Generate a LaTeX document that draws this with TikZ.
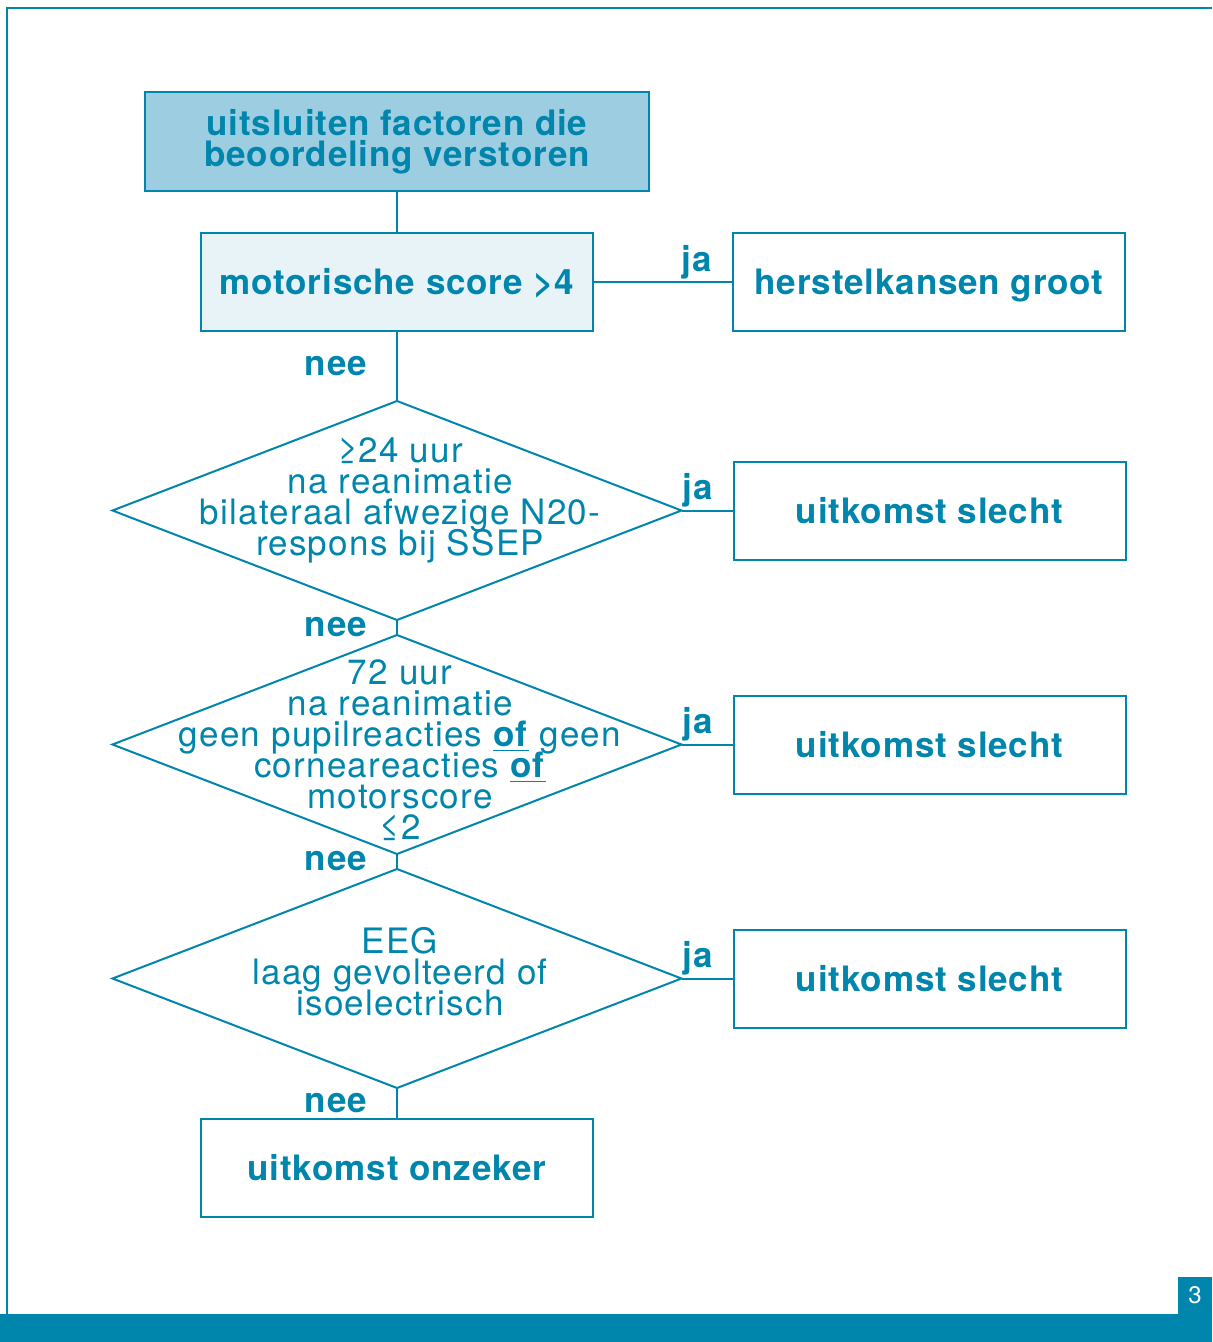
\documentclass[tikz,border=0pt]{standalone}
\usepackage{fontspec}
\setmainfont{TeX Gyre Heros}[LetterSpace=2.5]
\usetikzlibrary{positioning, shapes.geometric}
\definecolor{flowblue}{RGB}{0,134,173}
\definecolor{flowmid}{RGB}{157,205,224}
\definecolor{flowpale}{RGB}{232,243,248}
\newcommand\flowsize{\fontsize{17.5pt}{15.5pt}\selectfont\lineskiplimit=-20pt}
\newcommand\flowof{\smash{\underline{\textbf{of}}}}

\begin{document}
\begin{tikzpicture}[x = 0.5pt, y = -0.5pt, line width = 1pt, color = flowblue, outer sep = 0,
  box/.style = {draw, rectangle, minimum width = 196pt, minimum height = 49pt, inner sep = 0, align = center, font = \flowsize\bfseries},
  onebox/.style = {box, text height = 12.5pt, text depth = 0pt},
  topbox/.style = {box, fill = flowmid, minimum width = 252pt, minimum height = 49.5pt},
  dec/.style = {draw, diamond, minimum width = 284.5pt, minimum height = 109.5pt, inner sep = 0},
  dectext/.style = {align = center, inner sep = 0, font = \flowsize\addfontfeatures{LetterSpace=3.5}},
  ja/.style = {inner sep = 0, font = \flowsize\bfseries, pos = 1, above left = 1.5pt and 10.5pt},
  nee/.style = {inner sep = 0, font = \flowsize\bfseries, left = 15pt}]
\useasboundingbox (0,0) rectangle (1212,1342);
\draw (7,1314) -- (7,8) -- (1212,8);
\fill (0,1314) rectangle (1212,1342);
\node[fill, text = white, inner sep = 0, minimum width = 17pt, minimum height = 18.5pt, font = \fontsize{12pt}{13pt}\selectfont](page) at (1195,1295.5){3};

\node[topbox](excl) at (397,141.5){uitsluiten factoren die\\beoordeling verstoren};
\node[onebox, fill = flowpale, below = 21pt of excl](motor){motorische score >4};
\node[onebox, right = 70pt of motor](herstel){herstelkansen groot};
\node[dec, below = 35pt of motor](ssep){};
\node[onebox, right = 26pt of ssep](slecht1){uitkomst slecht};
\node[dec, below = 7.5pt of ssep](pupil){};
\node[onebox, right = 26pt of pupil](slecht2){uitkomst slecht};
\node[dec, below = 7.5pt of pupil](eeg){};
\node[onebox, right = 26pt of eeg](slecht3){uitkomst slecht};
\node[onebox, below = 15.5pt of eeg](onzeker){uitkomst onzeker};

\node[dectext](ssept) at ([xshift = 1.5pt, yshift = 5pt]ssep){≥24 uur\\na reanimatie\\bilateraal afwezige N20-\\respons bij SSEP};
\node[dectext](pupilt) at ([xshift = 1.5pt, yshift = -3pt]pupil){72 uur\\na reanimatie\\geen pupilreacties \flowof{} geen\\corneareacties \flowof\\motorscore\\≤2};
\node[dectext](eegt) at ([xshift = 1.5pt, yshift = 3.5pt]eeg){EEG\\laag gevolteerd of\\isoelectrisch};

\draw (excl) -- (motor);
\draw (motor) -- node[ja]{ja} (herstel);
\draw (motor) -- node[nee]{nee} (ssep);
\draw (ssep) -- node[ja]{ja} (slecht1);
\draw (ssep) -- node[nee]{nee} (pupil);
\draw (pupil) -- node[ja]{ja} (slecht2);
\draw (pupil) -- node[nee]{nee} (eeg);
\draw (eeg) -- node[ja]{ja} (slecht3);
\draw (eeg) -- node[nee]{nee} (onzeker);
\end{tikzpicture}
\end{document}
